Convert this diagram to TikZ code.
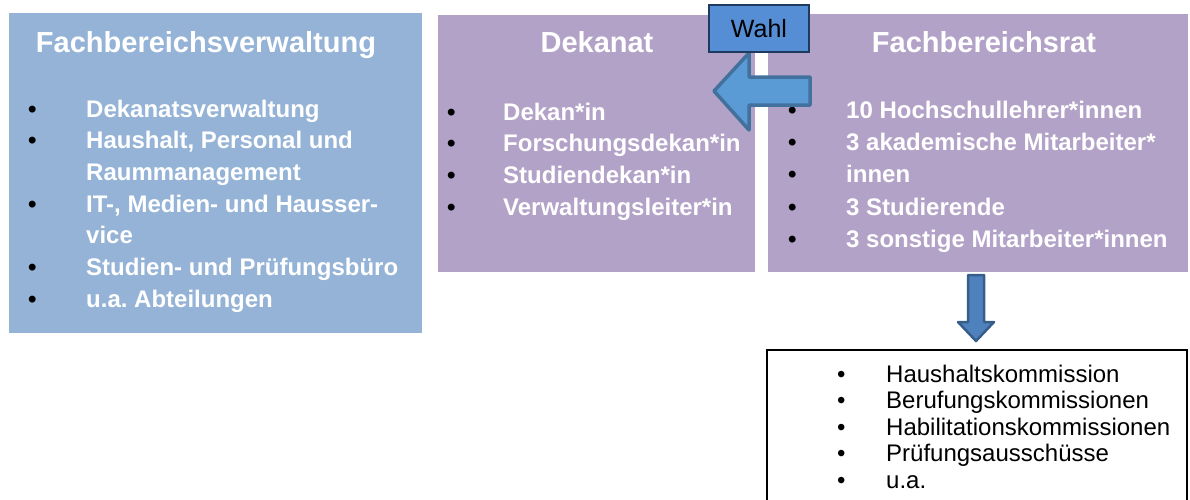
\documentclass[tikz,border=0pt]{standalone}
\usepackage{fontspec}
\usepackage{array}
\setmainfont{Liberation Sans}
\frenchspacing
\definecolor{verwblue}{HTML}{95B3D7}
\definecolor{ratpurple}{HTML}{B3A2C7}
\definecolor{wahlblue}{HTML}{558ED5}
\definecolor{wahlline}{HTML}{1F3A5F}
\definecolor{arrowblue}{HTML}{5B9BD5}
\definecolor{arrowline}{HTML}{41719C}
\definecolor{downblue}{HTML}{4F81BD}
\definecolor{downline}{HTML}{385D8A}
\tikzset{
  panel/.style={anchor=north west, inner sep=0pt, outer sep=0pt},
  paneltitle/.style={anchor=base, inner sep=0pt, text=white, font=\fontsize{29}{34}\selectfont\bfseries},
  bulletlist/.style={anchor=base west, inner sep=0pt, text=white, font=\fontsize{24}{31.7}\selectfont\bfseries},
  blockarrow/.style={line width=3.5pt, line join=round},
}
\begin{document}
\begin{tikzpicture}[x=1pt, y=-1pt]
      \useasboundingbox (0,0) rectangle (1190,499);
      % boxes
      \node[panel, fill=verwblue, minimum width=413pt, minimum height=320pt] (verw) at (9,13) {};
      \node[panel, fill=ratpurple, minimum width=317pt, minimum height=257pt] (dekanat) at (438,15) {};
      \node[panel, fill=ratpurple, minimum width=420pt, minimum height=258pt] (rat) at (768,14) {};
      \node[panel, draw=black, line width=2pt, minimum width=420pt, minimum height=170pt] (komm) at (767,350) {};
      % titles
      \node[paneltitle] (verwtitle) at (206,52) {Fachbereichsverwaltung};
      \node[paneltitle] (dekanattitle) at (597,52) {Dekanat};
      \node[paneltitle] (rattitle) at (984,52) {Fachbereichsrat};
      % lists
      \node[bulletlist] (verwlist) at (27.8,117) {\begin{tabular}[t]{@{}>{\leavevmode\color{black}}p{58.2pt}@{}l@{}}
        • & Dekanatsverwaltung\\
        • & Haushalt, Personal und\\
          & Raummanagement\\
        • & IT-, Medien- und Hausser-\\
          & vice\\
        • & Studien- und Prüfungsbüro\\
        • & u.a. Abteilungen
      \end{tabular}};
      \node[bulletlist] (dekanatlist) at (446.8,120) {\begin{tabular}[t]{@{}>{\leavevmode\color{black}}p{56.2pt}@{}l@{}}
        • & Dekan*in\\
        • & Forschungsdekan*in\\
        • & Studiendekan*in\\
        • & Verwaltungsleiter*in
      \end{tabular}};
      \node[bulletlist, font=\fontsize{24}{32.4}\selectfont\bfseries] (ratlist) at (787.8,118) {\begin{tabular}[t]{@{}>{\leavevmode\color{black}}p{58.2pt}@{}l@{}}
        • & 10 Hochschullehrer*innen\\
        • & 3 akademische Mitarbeiter*\\
        • & innen\\
        • & 3 Studierende\\
        • & 3 sonstige Mitarbeiter*innen
      \end{tabular}};
      \node[bulletlist, text=black, font=\fontsize{24}{26.5}\selectfont] (kommlist) at (836.8,382) {\begin{tabular}[t]{@{}p{49.2pt}@{}l@{}}
        • & Haushaltskommission\\
        • & Berufungskommissionen\\
        • & Habilitationskommissionen\\
        • & Prüfungsausschüsse\\
        • & u.a.
      \end{tabular}};
      % arrows
      \coordinate (lefttip) at (714,91);
      \draw[blockarrow, draw=arrowline, fill=arrowblue] (lefttip) -- ++(35,-38) -- ++(0,24) -- ++(61,0)
        -- ++(0,28) -- ++(-61,0) -- ++(0,25) -- cycle;
      \coordinate (downtip) at (976,341);
      \draw[blockarrow, line width=2.5pt, draw=downline, fill=downblue] (downtip) -- ++(-18,-19) -- ++(10,0) -- ++(0,-47)
        -- ++(16,0) -- ++(0,47) -- ++(10,0) -- cycle;
      \node[draw=wahlline, fill=wahlblue, line width=1.5pt, minimum width=100pt, minimum height=47pt,
        inner sep=0pt, font=\fontsize{25}{30}\selectfont] (wahl) at (759,28.5) {Wahl};
    \end{tikzpicture}
\end{document}
